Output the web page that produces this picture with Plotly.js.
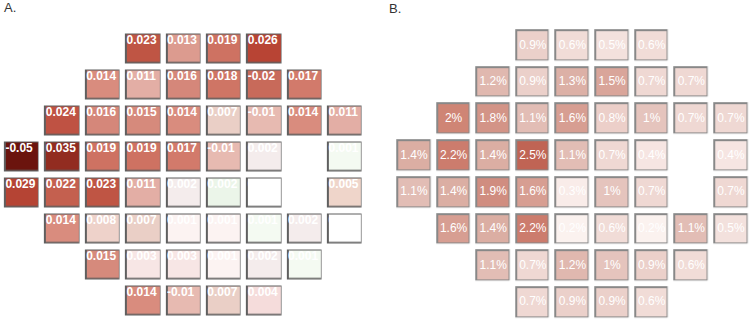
<!DOCTYPE html>
<html>
<head>
<meta charset="utf-8">
<script src="https://cdn.plot.ly/plotly-3.0.1.min.js"></script>
<style>html,body{margin:0;padding:0;background:#fff;}#chart{width:750px;height:319px;}</style>
</head>
<body>
<div id="chart"></div>
<script>
// ---- Panel A: values per grid cell (null = no test point) ----
const aRow0 = [null, null, null, 0.023, 0.013, 0.019, 0.026, null, null];
const aRow1 = [null, null, 0.014, 0.011, 0.016, 0.018, -0.02, 0.017, null];
const aRow2 = [null, 0.024, 0.016, 0.015, 0.014, 0.007, -0.01, 0.014, 0.011];
const aRow3 = [-0.05, 0.035, 0.019, 0.019, 0.017, -0.01, 0.002, null, 0.001];
const aRow4 = [0.029, 0.022, 0.023, 0.011, 0.002, 0.002, 0, null, 0.005];
const aRow5 = [null, 0.014, 0.008, 0.007, 0.001, 0.001, 0.001, 0.002, 0];
const aRow6 = [null, null, 0.015, 0.003, 0.003, 0.001, 0.002, 0.001, null];
const aRow7 = [null, null, null, 0.014, -0.01, 0.007, 0.004, null, null];
// cells drawn with a green tint in the reference [row, col]
const aGreenCells = [[3, 8], [4, 5], [5, 6], [6, 7]];

// ---- Panel B: percentages per grid cell ----
const bRow0 = [null, null, null, 0.9, 0.6, 0.5, 0.6, null, null];
const bRow1 = [null, null, 1.2, 0.9, 1.3, 1.5, 0.7, 0.7, null];
const bRow2 = [null, 2.0, 1.8, 1.1, 1.6, 0.8, 1.0, 0.7, 0.7];
const bRow3 = [1.4, 2.2, 1.4, 2.5, 1.1, 0.7, 0.4, null, 0.4];
const bRow4 = [1.1, 1.4, 1.9, 1.6, 0.3, 1.0, 0.7, null, 0.7];
const bRow5 = [null, 1.6, 1.4, 2.2, 0.2, 0.6, 0.2, 1.1, 0.5];
const bRow6 = [null, null, 1.1, 0.7, 1.2, 1.0, 0.9, 0.6, null];
const bRow7 = [null, null, null, 0.7, 0.9, 0.9, 0.6, null, null];

const panelLabels = ["A.", "B."];

const aGrid = [aRow0, aRow1, aRow2, aRow3, aRow4, aRow5, aRow6, aRow7];
const bGrid = [bRow0, bRow1, bRow2, bRow3, bRow4, bRow5, bRow6, bRow7];

// colour stops (value -> colour)
const aStops = [
  [-0.002, '#ebf5e9'], [-0.001, '#f4faf2'], [0, '#ffffff'], [0.001, '#fcf3f2'],
  [0.002, '#f4ecec'], [0.003, '#f7e6e5'], [0.004, '#f5dcdb'], [0.005, '#efd5ca'],
  [0.007, '#eacfc6'], [0.008, '#eed2ca'], [0.011, '#e3aea5'], [0.013, '#dc9b8f'],
  [0.014, '#d98c7e'], [0.015, '#d68a7c'], [0.016, '#d5877a'], [0.017, '#d27a6b'],
  [0.018, '#cf7565'], [0.019, '#ce7262'], [0.02, '#c86a5a'], [0.022, '#c4604f'],
  [0.023, '#bf5544'], [0.024, '#bf5243'], [0.026, '#b84434'], [0.029, '#b54434'],
  [0.035, '#922c20'], [0.05, '#6b140e']
];
const bStops = [
  [0, '#ffffff'], [0.2, '#fbf2ef'], [0.3, '#f9ece9'], [0.4, '#f6e5e2'], [0.5, '#f3e1dd'],
  [0.6, '#f1dcd7'], [0.7, '#efd8d3'], [0.8, '#eccfc9'], [0.9, '#ebd0ca'], [1.0, '#e5c4bd'],
  [1.1, '#e2bdb5'], [1.2, '#e0b8af'], [1.3, '#dcb0a6'], [1.4, '#dbaea3'], [1.5, '#d9a59a'],
  [1.6, '#d79e92'], [1.8, '#d39487'], [1.9, '#d08d80'], [2.0, '#cf8575'], [2.2, '#cc7c6d'],
  [2.5, '#c06454']
];
function toScale(stops) {
  const lo = stops[0][0], hi = stops[stops.length - 1][0];
  return { scale: stops.map(s => [(s[0] - lo) / (hi - lo), s[1]]), lo: lo, hi: hi };
}
const aScale = toScale(aStops), bScale = toScale(bStops);

const isGreen = (r, c) => aGreenCells.some(g => g[0] === r && g[1] === c);
const aShade = aGrid.map((row, r) => row.map((v, c) => v === null ? null : (isGreen(r, c) ? -Math.abs(v) : Math.abs(v))));
const presence = g => g.map(row => row.map(v => v === null ? null : 1));

function textPoints(grid, fmt) {
  const xs = [], ys = [], ts = [];
  grid.forEach((row, r) => row.forEach((v, c) => {
    if (v !== null) { xs.push(c); ys.push(r); ts.push(fmt(v)); }
  }));
  return { xs, ys, ts };
}
const aText = textPoints(aGrid, v => String(v));
const bText = textPoints(bGrid, v => String(v) + '%');

const traces = [
  { type: 'heatmap', z: presence(aGrid), colorscale: [[0, '#5f5f5f'], [1, '#5f5f5f']], showscale: false,
    xgap: 5.4, ygap: 6, xaxis: 'x', yaxis: 'y', hoverinfo: 'skip' },
  { type: 'heatmap', z: aShade, colorscale: aScale.scale, zmin: aScale.lo, zmax: aScale.hi, showscale: false,
    xgap: 8, ygap: 8.6, xaxis: 'x', yaxis: 'y' },
  { type: 'scatter', mode: 'text', x: aText.xs.map(c => c - 0.41), y: aText.ys.map(r => r - 0.2), text: aText.ts,
    textposition: 'middle right', textfont: { family: 'Liberation Sans, Arial, sans-serif', size: 12, color: '#ffffff', weight: 'bold' },
    xaxis: 'x', yaxis: 'y', hoverinfo: 'skip', cliponaxis: false },
  { type: 'heatmap', z: presence(bGrid), colorscale: [[0, '#888888'], [1, '#888888']], showscale: false,
    xgap: 5.6, ygap: 5.7, xaxis: 'x2', yaxis: 'y2', hoverinfo: 'skip' },
  { type: 'heatmap', z: bGrid, colorscale: bScale.scale, zmin: bScale.lo, zmax: bScale.hi, showscale: false,
    xgap: 8.6, ygap: 8.7, xaxis: 'x2', yaxis: 'y2' },
  { type: 'scatter', mode: 'text', x: bText.xs, y: bText.ys, text: bText.ts,
    textposition: 'middle center', textfont: { family: 'Liberation Sans, Arial, sans-serif', size: 12, color: '#ffffff' },
    xaxis: 'x2', yaxis: 'y2', hoverinfo: 'skip', cliponaxis: false }
];

const hidden = { showgrid: false, zeroline: false, showticklabels: false, ticks: '', showline: false, fixedrange: true };
const layout = {
  width: 750, height: 319,
  margin: { l: 0, r: 0, t: 0, b: 0 },
  paper_bgcolor: '#ffffff', plot_bgcolor: 'rgba(0,0,0,0)',
  showlegend: false,
  xaxis: Object.assign({}, hidden, { domain: [0, 0.49], range: [-0.545, 8.557] }),
  yaxis: Object.assign({}, hidden, { range: [7.514, -1.347] }),
  xaxis2: Object.assign({}, hidden, { domain: [0.51, 1], range: [-0.795, 8.48], anchor: 'y2' }),
  yaxis2: Object.assign({}, hidden, { range: [7.45, -1.24], anchor: 'x2' }),
  annotations: [
    { xref: 'paper', yref: 'paper', x: 0.002, y: 0.975, xanchor: 'left', yanchor: 'middle', text: panelLabels[0], showarrow: false,
      font: { family: 'Liberation Sans, Arial, sans-serif', size: 13, color: '#333333' } },
    { xref: 'paper', yref: 'paper', x: 0.516, y: 0.972, xanchor: 'left', yanchor: 'middle', text: panelLabels[1], showarrow: false,
      font: { family: 'Liberation Sans, Arial, sans-serif', size: 13, color: '#333333' } }
  ]
};
Plotly.newPlot('chart', traces, layout, { staticPlot: true, displayModeBar: false });
</script>
</body>
</html>
